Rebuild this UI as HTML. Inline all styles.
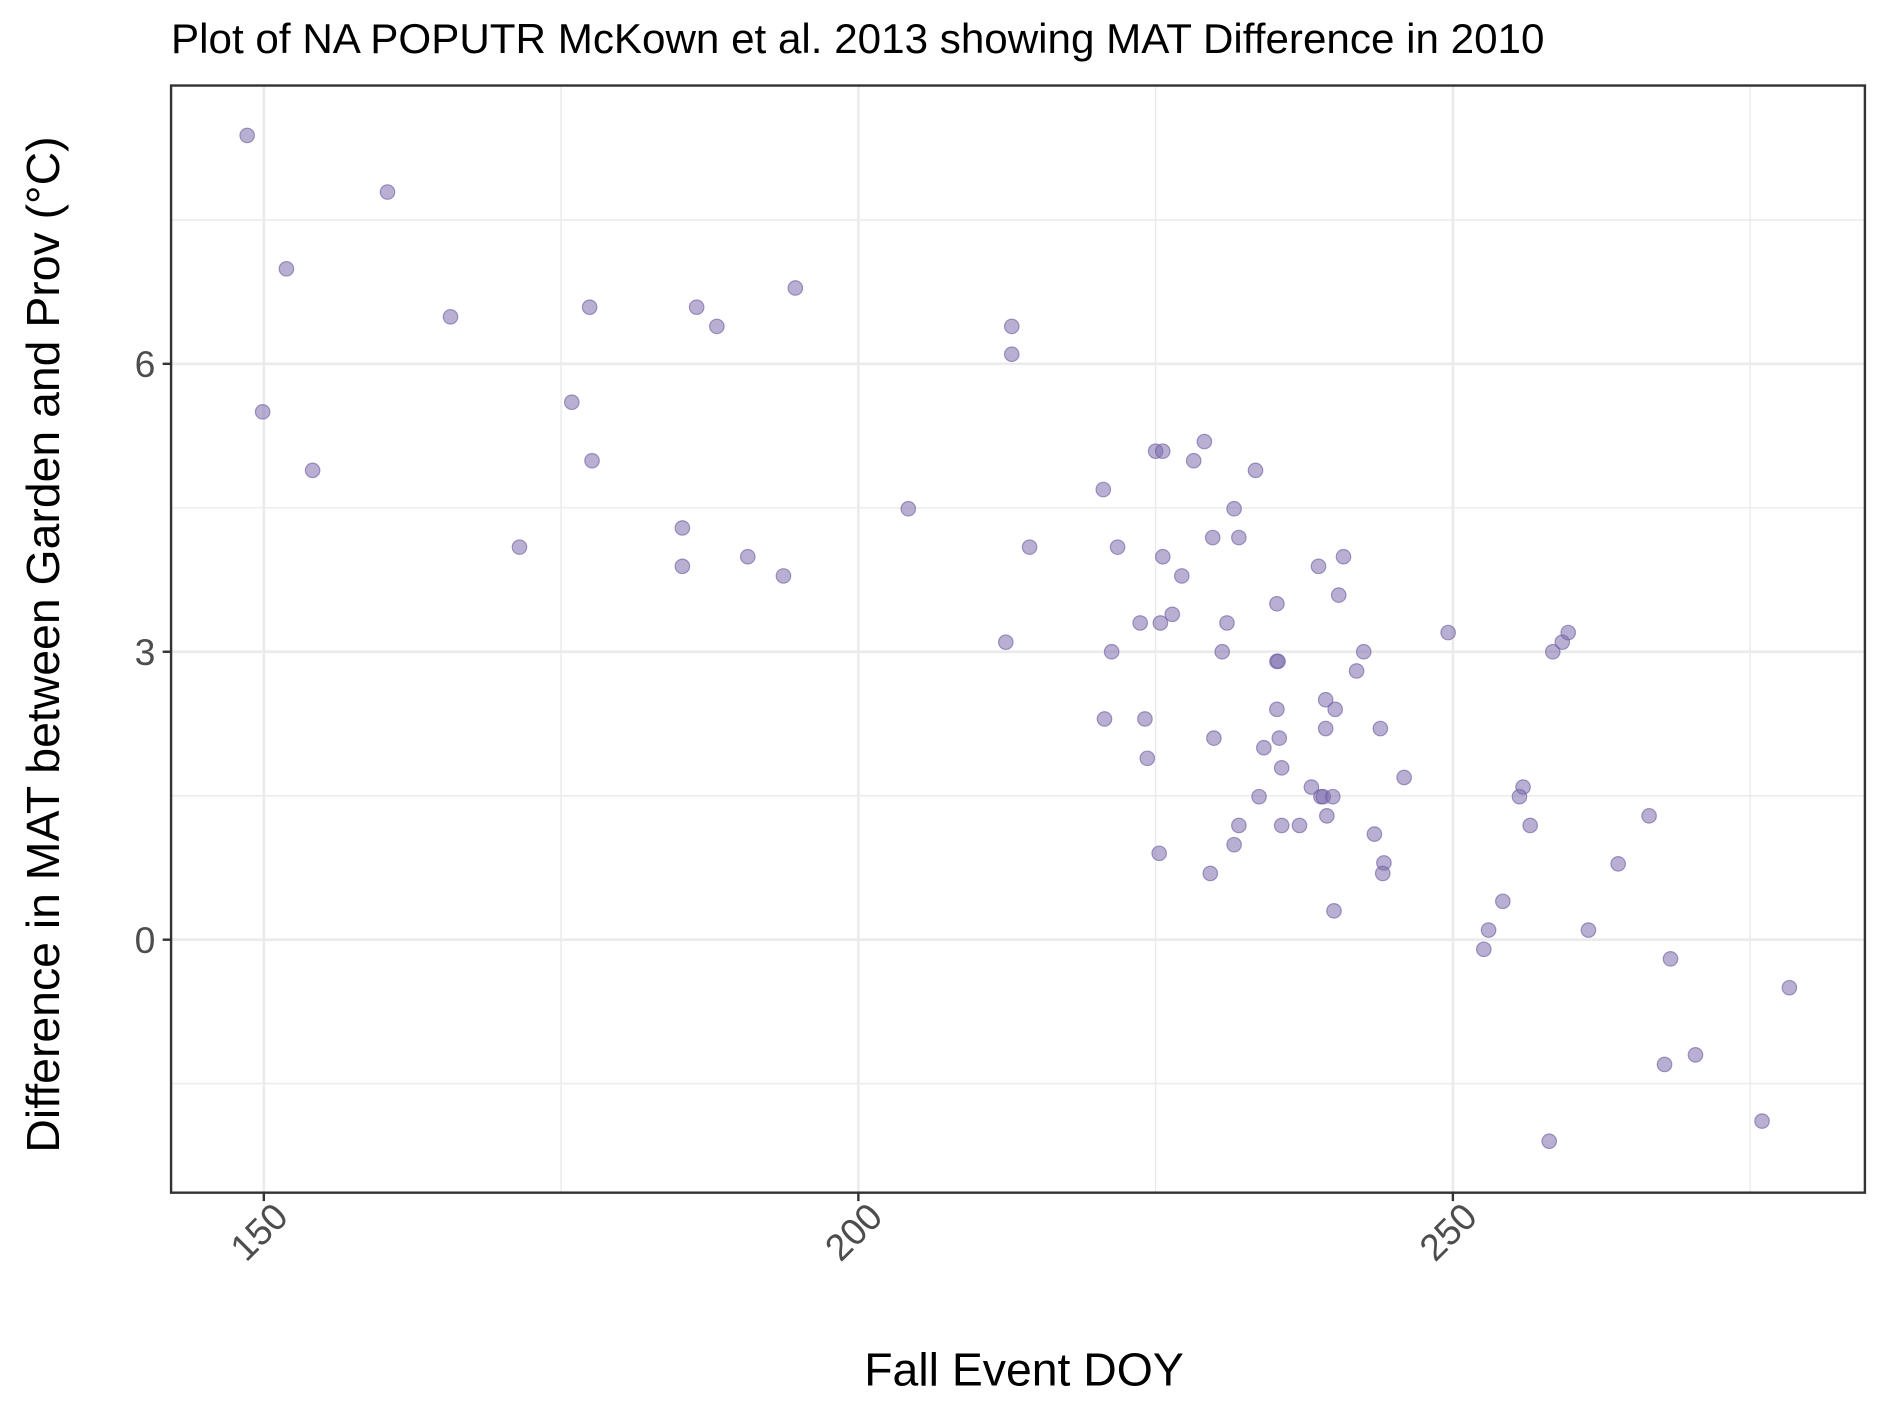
<!DOCTYPE html>
<html><head><meta charset="utf-8"><style>
html,body{margin:0;padding:0;background:#fff;}
svg{display:block;font-family:"Liberation Sans",Arial,sans-serif;}
</style></head><body>
<svg id="chart" width="1889" height="1417" viewBox="0 0 1568 1176.2" xmlns="http://www.w3.org/2000/svg">
<rect width="1568" height="1176.2" fill="#fff"/>
<text x="142" y="44" font-size="34.5" textLength="1140" lengthAdjust="spacingAndGlyphs" fill="#000">Plot of NA POPUTR McKown et al. 2013 showing MAT Difference in 2010</text>
<g id="grid"></g>
<g id="points"></g>
<rect x="142" y="71" width="1406" height="919" fill="none" stroke="#333" stroke-width="2"/>
<g id="axes"></g>
<text x="850" y="1150" font-size="38.5" text-anchor="middle" fill="#000">Fall Event DOY</text>
<text transform="translate(49,535) rotate(-90)" font-size="38.5" text-anchor="middle" fill="#000">Difference in MAT between Garden and Prov (°C)</text>
</svg>
<script>
const doy = [148.6,160.4,151.9,165.7,177.4,186.4,188.1,194.7,149.9,154.1,175.9,177.6,171.5,185.2,185.2,190.7,193.7,204.2,212.9,212.9,214.4,212.4,220.6,221.8,225.0,225.6,228.2,229.1,233.4,231.6,229.8,232.0,225.6,227.2,223.7,225.4,226.4,231.0,230.6,221.3,220.7,224.1,224.3,229.9,225.3,229.6,231.6,232.0,233.7,234.1,235.2,235.2,235.3,235.2,235.4,235.6,235.6,237.1,238.1,238.7,240.8,240.4,239.3,240.1,239.3,238.9,239.1,239.9,239.4,240.0,242.5,241.9,243.9,245.9,243.4,244.2,244.1,249.6,252.6,253.0,254.2,255.9,255.6,256.5,258.4,259.2,259.7,261.4,258.1,263.9,266.5,268.3,267.8,270.4,276.0,278.3];
const matDiff = [8.38,7.79,6.99,6.49,6.59,6.59,6.39,6.79,5.5,4.89,5.6,4.99,4.09,4.29,3.89,3.99,3.79,4.49,6.39,6.1,4.09,3.1,4.69,4.09,5.09,5.09,4.99,5.19,4.89,4.49,4.19,4.19,3.99,3.79,3.3,3.3,3.39,3.3,3.0,3.0,2.3,2.3,1.89,2.1,0.9,0.69,0.99,1.19,1.49,2.0,3.5,2.9,2.9,2.4,2.1,1.79,1.19,1.19,1.59,3.89,3.99,3.59,2.5,2.4,2.2,1.49,1.49,1.49,1.29,0.3,3.0,2.8,2.2,1.69,1.1,0.8,0.69,3.2,-0.1,0.1,0.4,1.59,1.49,1.19,3.0,3.1,3.2,0.1,-2.1,0.79,1.29,-0.2,-1.3,-1.2,-1.89,-0.5];
const xTicks = [150,200,250];
const xMinor = [175,225,275];
const yTicks = [0,3,6];
const yMinor = [-1.5,1.5,4.5,7.5];

const NS="http://www.w3.org/2000/svg";
const L=142,R=1548,T=71,B=990;
function sx(v){return 219+(v-150)*(1206-219)/100;}
function sy(v){return 780-(v)*(780-302)/6;}
function mk(tag,attrs,parent){const e=document.createElementNS(NS,tag);for(const k in attrs)e.setAttribute(k,attrs[k]);parent.appendChild(e);return e;}
const grid=document.getElementById('grid'),pts=document.getElementById('points'),axes=document.getElementById('axes');
xMinor.forEach(v=>{const e=mk('line',{x1:sx(v),x2:sx(v),y1:T,y2:B,stroke:'#ebebeb','stroke-width':1.2},grid);

});
yMinor.forEach(v=>{const e=mk('line',{x1:L,x2:R,y1:sy(v),y2:sy(v),stroke:'#ebebeb','stroke-width':1.2},grid);

});
xTicks.forEach(v=>{const e=mk('line',{x1:sx(v),x2:sx(v),y1:T,y2:B,stroke:'#ebebeb','stroke-width':2.2},grid);


const t=mk('line',{x1:sx(v),x2:sx(v),y1:B,y2:B+7,stroke:'#333','stroke-width':2},axes);


const lb=mk('text',{transform:`translate(${sx(v)+16},${B+16}) rotate(-45)`,'text-anchor':'end','font-size':31,fill:'#4d4d4d','dominant-baseline':'middle'},axes);
lb.textContent=v;

});
yTicks.forEach(v=>{const e=mk('line',{x1:L,x2:R,y1:sy(v),y2:sy(v),stroke:'#ebebeb','stroke-width':2.2},grid);


const t=mk('line',{x1:L-7,x2:L,y1:sy(v),y2:sy(v),stroke:'#333','stroke-width':2},axes);


const lb=mk('text',{x:L-13,y:sy(v)+11,'text-anchor':'end','font-size':31,fill:'#4d4d4d'},axes);
lb.textContent=v;

});
doy.forEach((d,i)=>{const c=mk('circle',{cx:sx(d),cy:sy(matDiff[i]),r:6,fill:'#7e6dae','fill-opacity':0.55,stroke:'#6a5a9c','stroke-opacity':0.6,'stroke-width':1},pts);

});
</script>
</body></html>
